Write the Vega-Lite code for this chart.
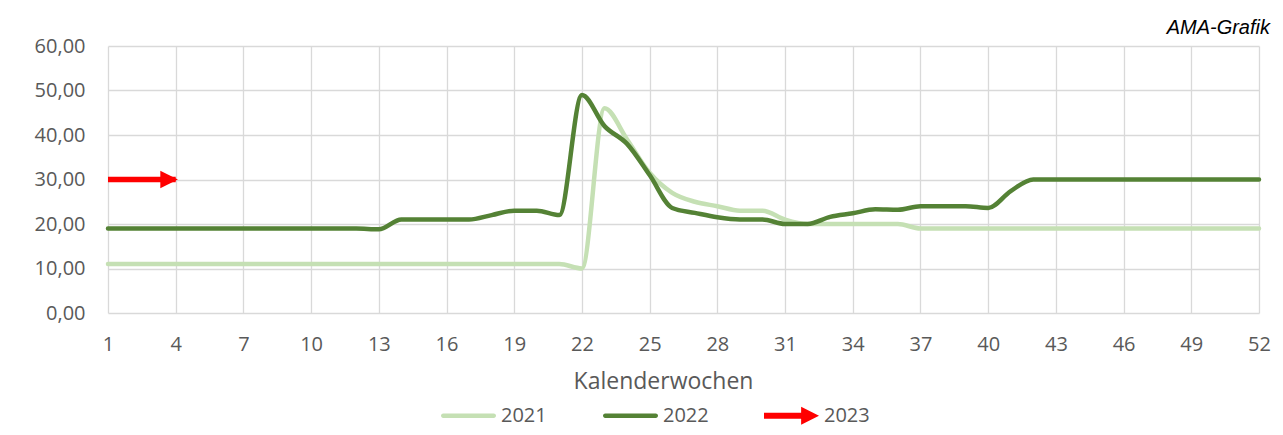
{
  "$schema": "https://vega.github.io/schema/vega-lite/v6.json",
  "autosize": {"type": "none"},
  "padding": {"left": 108, "top": 46, "right": 24, "bottom": 122},
  "width": 1151,
  "height": 267,
  "background": "#ffffff",
  "title": {
    "text": "AMA-Grafik",
    "anchor": "end",
    "frame": "group",
    "font": "Liberation Sans",
    "fontStyle": "italic",
    "fontWeight": "normal",
    "fontSize": 20,
    "color": "#000000",
    "baseline": "alphabetic",
    "dx": 11,
    "offset": -18
  },
  "data": {
    "values": [
      {"year": "2021", "week": 1, "value": 11}, {"year": "2021", "week": 2, "value": 11}, {"year": "2021", "week": 3, "value": 11}, {"year": "2021", "week": 4, "value": 11},
      {"year": "2021", "week": 5, "value": 11}, {"year": "2021", "week": 6, "value": 11}, {"year": "2021", "week": 7, "value": 11}, {"year": "2021", "week": 8, "value": 11},
      {"year": "2021", "week": 9, "value": 11}, {"year": "2021", "week": 10, "value": 11}, {"year": "2021", "week": 11, "value": 11}, {"year": "2021", "week": 12, "value": 11},
      {"year": "2021", "week": 13, "value": 11}, {"year": "2021", "week": 14, "value": 11}, {"year": "2021", "week": 15, "value": 11}, {"year": "2021", "week": 16, "value": 11},
      {"year": "2021", "week": 17, "value": 11}, {"year": "2021", "week": 18, "value": 11}, {"year": "2021", "week": 19, "value": 11}, {"year": "2021", "week": 20, "value": 11},
      {"year": "2021", "week": 21, "value": 11}, {"year": "2021", "week": 22, "value": 10}, {"year": "2021", "week": 23, "value": 46}, {"year": "2021", "week": 24, "value": 39},
      {"year": "2021", "week": 25, "value": 31.5}, {"year": "2021", "week": 26, "value": 27}, {"year": "2021", "week": 27, "value": 25}, {"year": "2021", "week": 28, "value": 24},
      {"year": "2021", "week": 29, "value": 23}, {"year": "2021", "week": 30, "value": 23}, {"year": "2021", "week": 31, "value": 21}, {"year": "2021", "week": 32, "value": 20},
      {"year": "2021", "week": 33, "value": 20}, {"year": "2021", "week": 34, "value": 20}, {"year": "2021", "week": 35, "value": 20}, {"year": "2021", "week": 36, "value": 20},
      {"year": "2021", "week": 37, "value": 19}, {"year": "2021", "week": 38, "value": 19}, {"year": "2021", "week": 39, "value": 19}, {"year": "2021", "week": 40, "value": 19},
      {"year": "2021", "week": 41, "value": 19}, {"year": "2021", "week": 42, "value": 19}, {"year": "2021", "week": 43, "value": 19}, {"year": "2021", "week": 44, "value": 19},
      {"year": "2021", "week": 45, "value": 19}, {"year": "2021", "week": 46, "value": 19}, {"year": "2021", "week": 47, "value": 19}, {"year": "2021", "week": 48, "value": 19},
      {"year": "2021", "week": 49, "value": 19}, {"year": "2021", "week": 50, "value": 19}, {"year": "2021", "week": 51, "value": 19}, {"year": "2021", "week": 52, "value": 19},
      {"year": "2022", "week": 1, "value": 19}, {"year": "2022", "week": 2, "value": 19}, {"year": "2022", "week": 3, "value": 19}, {"year": "2022", "week": 4, "value": 19},
      {"year": "2022", "week": 5, "value": 19}, {"year": "2022", "week": 6, "value": 19}, {"year": "2022", "week": 7, "value": 19}, {"year": "2022", "week": 8, "value": 19},
      {"year": "2022", "week": 9, "value": 19}, {"year": "2022", "week": 10, "value": 19}, {"year": "2022", "week": 11, "value": 19}, {"year": "2022", "week": 12, "value": 19},
      {"year": "2022", "week": 13, "value": 18.8}, {"year": "2022", "week": 14, "value": 21}, {"year": "2022", "week": 15, "value": 21}, {"year": "2022", "week": 16, "value": 21},
      {"year": "2022", "week": 17, "value": 21}, {"year": "2022", "week": 18, "value": 22}, {"year": "2022", "week": 19, "value": 23}, {"year": "2022", "week": 20, "value": 23},
      {"year": "2022", "week": 21, "value": 22}, {"year": "2022", "week": 22, "value": 49}, {"year": "2022", "week": 23, "value": 42}, {"year": "2022", "week": 24, "value": 38},
      {"year": "2022", "week": 25, "value": 31}, {"year": "2022", "week": 26, "value": 23.6}, {"year": "2022", "week": 27, "value": 22.5}, {"year": "2022", "week": 28, "value": 21.5},
      {"year": "2022", "week": 29, "value": 21}, {"year": "2022", "week": 30, "value": 21}, {"year": "2022", "week": 31, "value": 20}, {"year": "2022", "week": 32, "value": 20},
      {"year": "2022", "week": 33, "value": 21.6}, {"year": "2022", "week": 34, "value": 22.4}, {"year": "2022", "week": 35, "value": 23.3}, {"year": "2022", "week": 36, "value": 23.2},
      {"year": "2022", "week": 37, "value": 24}, {"year": "2022", "week": 38, "value": 24}, {"year": "2022", "week": 39, "value": 24}, {"year": "2022", "week": 40, "value": 23.6},
      {"year": "2022", "week": 41, "value": 27.4}, {"year": "2022", "week": 42, "value": 30}, {"year": "2022", "week": 43, "value": 30}, {"year": "2022", "week": 44, "value": 30},
      {"year": "2022", "week": 45, "value": 30}, {"year": "2022", "week": 46, "value": 30}, {"year": "2022", "week": 47, "value": 30}, {"year": "2022", "week": 48, "value": 30},
      {"year": "2022", "week": 49, "value": 30}, {"year": "2022", "week": 50, "value": 30}, {"year": "2022", "week": 51, "value": 30}, {"year": "2022", "week": 52, "value": 30},
      {"year": "2023", "week": 1, "value": 30}, {"year": "2023", "week": 4, "value": 30}
    ]
  },
  "encoding": {
    "x": {
      "field": "week", "type": "quantitative",
      "scale": {"domain": [1, 52], "nice": false, "zero": false},
      "axis": {
        "values": [1, 4, 7, 10, 13, 16, 19, 22, 25, 28, 31, 34, 37, 40, 43, 46, 49, 52],
        "format": "d",
        "labelPadding": 21,
        "labelFlush": false,
        "labelOverlap": false,
        "title": "Kalenderwochen",
        "titleFontSize": 23,
        "titleFontWeight": "normal",
        "titleX": 555,
        "titleY": 75,
        "titleBaseline": "alphabetic",
        "titleAnchor": "middle"
      }
    },
    "y": {
      "field": "value", "type": "quantitative",
      "scale": {"domain": [0, 60], "nice": false},
      "axis": {
        "values": [0, 10, 20, 30, 40, 50, 60],
        "labelExpr": "replace(format(datum.value, '.2f'), '.', ',')",
        "labelPadding": 23,
        "title": null
      }
    },
    "color": {
      "field": "year", "type": "nominal",
      "scale": {"domain": ["2021", "2022", "2023"], "range": ["#c5e0b4", "#548235", "#ff0000"]},
      "legend": {
        "title": null,
        "orient": "none",
        "direction": "horizontal",
        "legendX": 333,
        "legendY": 342,
        "padding": 0,
        "labelFontSize": 20,
        "labelColor": "#595959",
        "labelFont": "Open Sans",
        "labelOffset": 5,
        "columnPadding": 55,
        "symbolSize": 3025,
        "symbolStrokeWidth": 0,
        "encode": {
          "symbols": {
            "update": {
              "shape": {"signal": "datum.value === '2023' ? 'M-1,-0.11H0.35V-0.33L1,0L0.35,0.33V0.11H-1Z' : 'M-0.92,-0.08H0.92A0.08,0.08 0 0 1 0.92,0.08H-0.92A0.08,0.08 0 0 1 -0.92,-0.08Z'"},
              "fill": {"scale": "color", "field": "value"},
              "fillOpacity": {"value": 1},
              "opacity": {"value": 1},
              "strokeWidth": {"value": 0},
              "size": {"value": 3025}
            }
          }
        }
      }
    }
  },
  "layer": [
    {
      "transform": [{"filter": "datum.year !== '2023'"}],
      "mark": {"type": "line", "interpolate": "monotone", "strokeWidth": 4.5, "strokeCap": "round", "strokeJoin": "round"}
    },
    {
      "transform": [{"filter": "datum.year === '2023'"}],
      "mark": {"type": "line", "strokeWidth": 5.5, "strokeCap": "butt"}
    },
    {
      "transform": [{"filter": "datum.year === '2023' && datum.week === 4"}],
      "mark": {"type": "point", "shape": "M0.25,0L-1.75,-1L-1.75,1Z", "filled": true, "size": 310, "opacity": 1, "strokeWidth": 0}
    }
  ],
  "config": {
    "font": "Open Sans",
    "view": {"stroke": null},
    "axis": {
      "grid": true,
      "gridColor": "#d9d9d9",
      "gridWidth": 1.3,
      "domain": false,
      "ticks": false,
      "labelColor": "#595959",
      "labelFontSize": 20,
      "labelFont": "Open Sans",
      "titleColor": "#595959",
      "titleFont": "Open Sans"
    }
  }
}
